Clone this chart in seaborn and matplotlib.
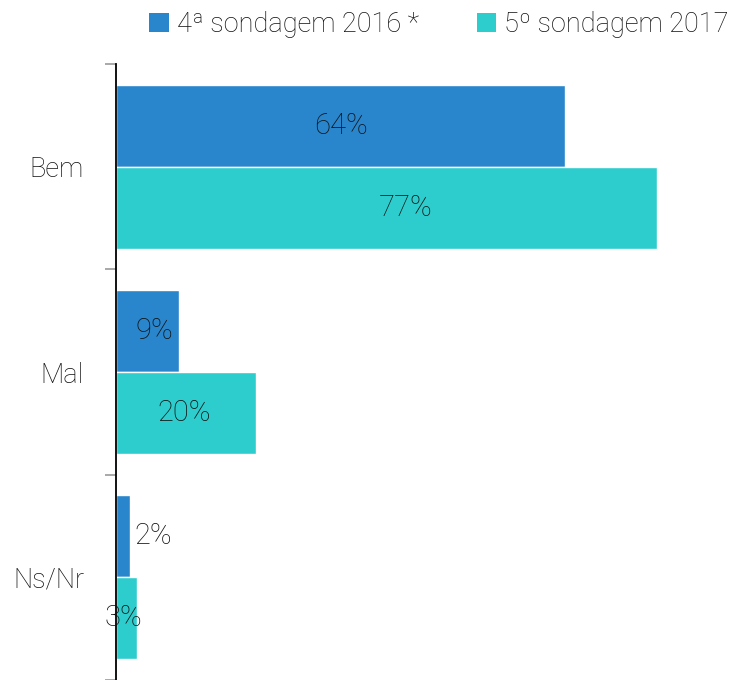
import pandas as pd
import matplotlib.pyplot as plt
import seaborn as sns
from matplotlib.ticker import FixedLocator
from matplotlib.patches import Patch

# Data
categories = ['Bem', 'Mal', 'Ns/Nr']
series = ['4ª sondagem 2016 *', '5º sondagem 2017']
vals_2016 = [64, 9, 2]
vals_2017 = [77, 20, 3]
colors = ['#2986CC', '#2ECDCD']

df = pd.DataFrame({
    'Resposta': categories * 2,
    'Sondagem': [series[0]] * 3 + [series[1]] * 3,
    'Valor': vals_2016 + vals_2017,
})

sns.set_style('white')
plt.rcParams['font.family'] = ['Roboto', 'DejaVu Sans']
plt.rcParams['font.weight'] = 'light'

fig = plt.figure(figsize=(7.3, 6.8), dpi=100)
ax = fig.add_axes([116 / 730, 0.0, (725 - 116) / 730, (680 - 64) / 680])

sns.barplot(data=df, x='Valor', y='Resposta', hue='Sondagem', orient='h',
            palette=colors, order=categories, hue_order=series,
            width=0.8, saturation=1, ax=ax, legend=False)

ax.set_xlim(0, (725 - 116) / 7.02)
ax.set_ylim(2.5, -0.5)
ax.set_xlabel('')
ax.set_ylabel('')
ax.set_xticks([])

for s in ['top', 'right', 'bottom']:
    ax.spines[s].set_visible(False)
ax.spines['left'].set_color('black')
ax.spines['left'].set_linewidth(1.3)

ax.tick_params(axis='y', which='major', length=0, pad=23, labelsize=19.5,
               labelcolor='#111111')
ax.yaxis.set_minor_locator(FixedLocator([-0.5, 0.5, 1.5, 2.5]))
ax.tick_params(axis='y', which='minor', length=8, width=1.2, color='#999999',
               left=True)

# value labels: centred in the bar, small bars nudged (pixels)
nudge = {(0, 1): 19, (1, 0): 7, (1, 1): -2, (2, 0): 30, (2, 1): -3}
for j, cont in enumerate(ax.containers):
    for i, bar in enumerate(cont):
        v = bar.get_width()
        y = bar.get_y() + bar.get_height() / 2
        ax.annotate(f'{v:.0f}%', xy=(v / 2, y), xytext=(nudge.get((i, j), 0) * 0.72, 0),
                    textcoords='offset points', ha='center', va='center',
                    fontsize=21, color='#111111')

handles = [Patch(facecolor=c, edgecolor='none') for c in colors]
fig.legend(handles, series, loc='upper right', bbox_to_anchor=(1.032, 1.02),
           ncol=2, frameon=False, fontsize=19.5, handlelength=0.72, handleheight=0.72,
           handletextpad=0.3, columnspacing=2.15, labelcolor='#111111')

plt.savefig('out.png', dpi=100)
